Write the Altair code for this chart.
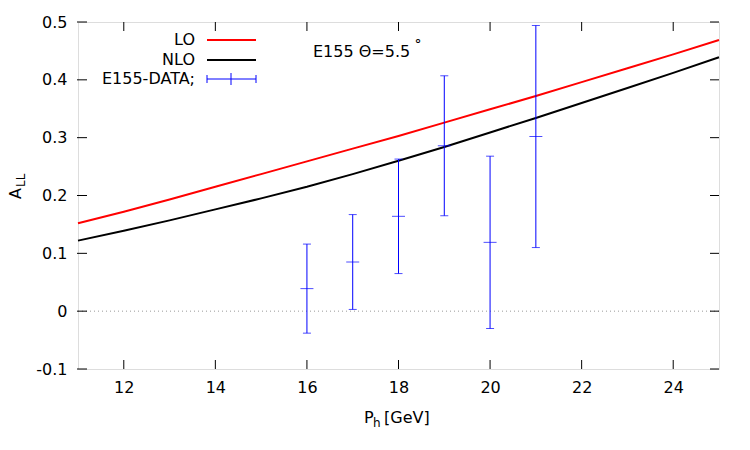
import altair as alt
import pandas as pd

# Curves
x_curve = [11, 12, 13, 14, 15, 16, 17, 18, 19, 20, 21, 22, 23, 24, 25]
lo_vals = [0.152, 0.172, 0.193, 0.215, 0.237, 0.259, 0.281, 0.303, 0.326, 0.349, 0.372, 0.396, 0.420, 0.444, 0.469]
nlo_vals = [0.122, 0.139, 0.157, 0.176, 0.195, 0.215, 0.237, 0.260, 0.284, 0.309, 0.334, 0.360, 0.386, 0.412, 0.439]

# Data points
x_data = [16, 17, 18, 19, 20, 21]
y_data = [0.039, 0.085, 0.164, 0.286, 0.119, 0.302]
y_err = [0.077, 0.082, 0.099, 0.121, 0.149, 0.192]

x_ticks = [12, 14, 16, 18, 20, 22, 24]
y_ticks = [-0.1, 0, 0.1, 0.2, 0.3, 0.4, 0.5]

W, H = 641, 347
FONT = "DejaVu Sans"
FS = 16

xs = alt.Scale(domain=[11, 25], nice=False, zero=False)
ys = alt.Scale(domain=[-0.1, 0.5], nice=False, zero=False)

curves = pd.DataFrame({
    "x": x_curve * 2,
    "y": lo_vals + nlo_vals,
    "s": ["LO"] * len(x_curve) + ["NLO"] * len(x_curve),
})
pts = pd.DataFrame({
    "x": x_data,
    "y": y_data,
    "lo": [a - b for a, b in zip(y_data, y_err)],
    "hi": [a + b for a, b in zip(y_data, y_err)],
})
xt = pd.DataFrame({"t": x_ticks})
yt = pd.DataFrame({"t": y_ticks})

base_axes = alt.Chart(pd.DataFrame({"x": [11], "y": [0]})).mark_point(opacity=0).encode(
    x=alt.X("x:Q", scale=xs, title=None,
            axis=alt.Axis(values=x_ticks, ticks=False, domain=False, grid=False,
                          labelFont=FONT, labelFontSize=FS, labelPadding=10, labelColor="black")),
    y=alt.Y("y:Q", scale=ys, title=None,
            axis=alt.Axis(values=y_ticks, ticks=False, domain=False, grid=False,
                          labelExpr="datum.value == 0 ? '0' : replace(format(datum.value, '.1f'), '\u2212', '-')",
                          labelFont=FONT, labelFontSize=FS, labelPadding=11, labelColor="black")),
)

zero = alt.Chart(pd.DataFrame({"z": [0]})).mark_rule(color="#999999", strokeDash=[1, 3], strokeWidth=1).encode(
    y=alt.Y("z:Q", scale=ys))

xtick_b = alt.Chart(xt).mark_rule(color="black").encode(
    x=alt.X("t:Q", scale=xs), y=alt.value(H - 9), y2=alt.value(H))
xtick_t = alt.Chart(xt).mark_rule(color="black").encode(
    x=alt.X("t:Q", scale=xs), y=alt.value(0), y2=alt.value(9))
ytick_l = alt.Chart(yt).mark_rule(color="black").encode(
    y=alt.Y("t:Q", scale=ys), x=alt.value(-1), x2=alt.value(9))
ytick_r = alt.Chart(yt).mark_rule(color="black").encode(
    y=alt.Y("t:Q", scale=ys), x=alt.value(W - 9), x2=alt.value(W))

lines = alt.Chart(curves).mark_line(strokeWidth=2).encode(
    x=alt.X("x:Q", scale=xs),
    y=alt.Y("y:Q", scale=ys),
    color=alt.Color("s:N", scale=alt.Scale(domain=["LO", "NLO"], range=["#ff0000", "#000000"]), legend=None),
)

bars = alt.Chart(pts).mark_rule(color="#0000ff", strokeWidth=1).encode(
    x=alt.X("x:Q", scale=xs), y=alt.Y("lo:Q", scale=ys), y2="hi:Q")
cap_lo = alt.Chart(pts).mark_tick(color="#0000ff", orient="horizontal", size=8, thickness=1).encode(
    x=alt.X("x:Q", scale=xs), y=alt.Y("lo:Q", scale=ys))
cap_hi = alt.Chart(pts).mark_tick(color="#0000ff", orient="horizontal", size=8, thickness=1).encode(
    x=alt.X("x:Q", scale=xs), y=alt.Y("hi:Q", scale=ys))
center = alt.Chart(pts).mark_tick(color="#0000ff", orient="horizontal", size=13, thickness=1).encode(
    x=alt.X("x:Q", scale=xs), y=alt.Y("y:Q", scale=ys))

one = pd.DataFrame({"a": [0]})

def txt(text, x, y, size=FS, align="left", angle=0, color="black"):
    return alt.Chart(one).mark_text(text=text, font=FONT, fontSize=size, align=align,
                                    baseline="middle", angle=angle, color=color).encode(
        x=alt.value(x), y=alt.value(y))

def seg(x1, x2, y1, y2, color, w=1):
    return alt.Chart(one).mark_rule(color=color, strokeWidth=w).encode(
        x=alt.value(x1), x2=alt.value(x2), y=alt.value(y1), y2=alt.value(y2))

legend = [
    txt("LO", 117, 18, align="right"),
    seg(129, 178, 18, 18, "#ff0000", 2),
    txt("NLO", 117, 38, align="right"),
    seg(129, 178, 38, 38, "#000000", 2),
    txt("E155-DATA;", 117, 57, align="right"),
    seg(129, 178, 57, 57, "#0000ff"),
    seg(129, 129, 53, 61, "#0000ff"),
    seg(178, 178, 53, 61, "#0000ff"),
    seg(153, 153, 51, 63, "#0000ff"),
]

annot = [
    txt("E155 Θ=5.5", 235, 30),
    txt("˚", 336, 26, size=16),
]

titles = [
    txt("A", -62, 177, angle=270),
    txt("LL", -57, 165, size=12, angle=270),
    txt("P", 286, 396),
    txt("h", 295, 401, size=12),
    txt("[GeV]", 306, 396),
]

chart = alt.layer(
    base_axes, zero, xtick_b, xtick_t, ytick_l, ytick_r, lines, bars, cap_lo, cap_hi, center,
    *legend, *annot, *titles
).properties(
    width=W, height=H,
    autosize=alt.AutoSizeParams(type="none"),
    padding={"left": 78, "top": 22, "right": 31, "bottom": 81},
).configure_view(stroke="black", strokeWidth=1).configure(background="white")

chart.save("out.html", embed_options={"renderer": "svg", "actions": False})
